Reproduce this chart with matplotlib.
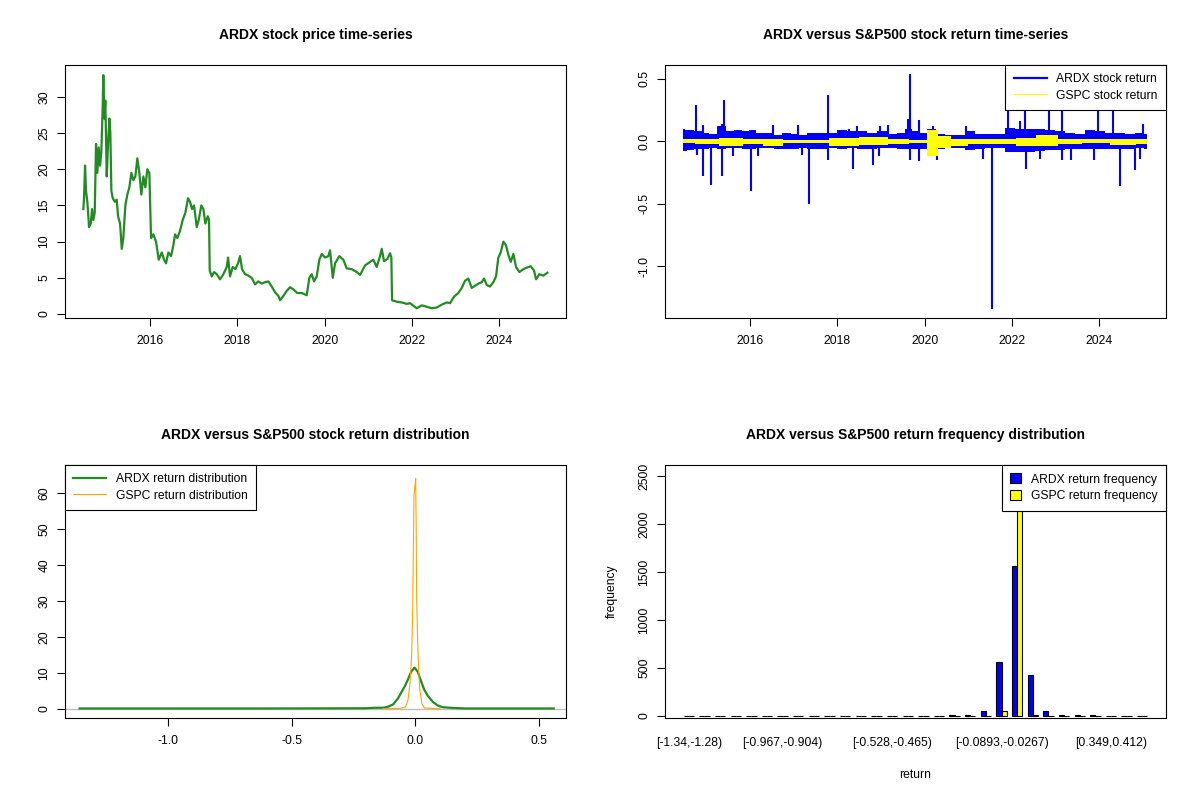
import numpy as np
import matplotlib
matplotlib.use('Agg')
import matplotlib.pyplot as plt
from matplotlib.lines import Line2D
from matplotlib.patches import Patch

plt.rcParams['font.family'] = ['Liberation Sans', 'DejaVu Sans']

# ARDX closing price (decimal year, USD)
price_years = [2014.472, 2014.488, 2014.511, 2014.534, 2014.564, 2014.603, 2014.642, 2014.672,
               2014.701, 2014.733, 2014.763, 2014.793, 2014.825, 2014.855, 2014.885, 2014.917,
               2014.930, 2014.953, 2014.976, 2015.008, 2015.038, 2015.068, 2015.091, 2015.114,
               2015.146, 2015.192, 2015.237, 2015.267, 2015.313, 2015.352, 2015.388, 2015.434,
               2015.480, 2015.526, 2015.572, 2015.618, 2015.663, 2015.709, 2015.755, 2015.801,
               2015.847, 2015.892, 2015.938, 2015.984, 2016.023, 2016.076, 2016.137, 2016.199,
               2016.268, 2016.321, 2016.366, 2016.419, 2016.481, 2016.534, 2016.573, 2016.625,
               2016.687, 2016.749, 2016.809, 2016.870, 2016.916, 2016.962, 2017.008, 2017.070,
               2017.115, 2017.175, 2017.221, 2017.267, 2017.322, 2017.351, 2017.367, 2017.413,
               2017.466, 2017.528, 2017.603, 2017.679, 2017.757, 2017.787, 2017.832, 2017.894,
               2017.954, 2018.016, 2018.061, 2018.107, 2018.176, 2018.251, 2018.329, 2018.405,
               2018.480, 2018.558, 2018.634, 2018.710, 2018.787, 2018.863, 2018.939, 2018.978,
               2019.053, 2019.131, 2019.207, 2019.282, 2019.374, 2019.475, 2019.589, 2019.649,
               2019.704, 2019.756, 2019.818, 2019.878, 2019.933, 2020.008, 2020.084, 2020.123,
               2020.185, 2020.237, 2020.336, 2020.427, 2020.505, 2020.620, 2020.734, 2020.810,
               2020.924, 2021.039, 2021.114, 2021.192, 2021.268, 2021.307, 2021.359, 2021.435,
               2021.497, 2021.527, 2021.543, 2021.650, 2021.765, 2021.879, 2021.955, 2022.108,
               2022.223, 2022.338, 2022.452, 2022.567, 2022.681, 2022.796, 2022.871, 2022.963,
               2023.061, 2023.139, 2023.215, 2023.290, 2023.368, 2023.444, 2023.519, 2023.597,
               2023.650, 2023.712, 2023.787, 2023.863, 2023.925, 2023.977, 2024.032, 2024.092,
               2024.154, 2024.206, 2024.261, 2024.321, 2024.383, 2024.458, 2024.550, 2024.628,
               2024.720, 2024.795, 2024.841, 2024.917, 2025.008, 2025.100]
price_values = [14.5, 16.0, 20.5, 17.0, 15.5, 12.0, 12.5, 14.5,
                13.0, 14.0, 23.5, 19.5, 23.0, 20.5, 22.5, 29.0,
                33.0, 27.0, 29.5, 19.0, 23.5, 27.0, 25.0, 17.0,
                16.0, 15.5, 15.8, 13.5, 12.5, 9.0, 10.5, 15.0,
                16.5, 17.5, 19.5, 18.5, 19.0, 21.5, 19.5, 16.5,
                19.0, 17.5, 20.0, 19.5, 10.5, 11.0, 10.0, 7.5,
                8.5, 7.5, 7.0, 8.5, 8.0, 9.5, 11.0, 10.5,
                11.5, 13.0, 14.0, 16.0, 15.5, 14.5, 15.0, 12.0,
                13.0, 15.0, 14.5, 12.5, 13.5, 13.0, 6.0, 5.2,
                5.8, 5.5, 4.8, 5.5, 6.5, 7.8, 5.2, 6.5,
                6.2, 7.0, 8.0, 6.2, 5.5, 5.3, 5.0, 4.1,
                4.5, 4.2, 4.4, 4.5, 3.8, 3.0, 2.5, 1.9,
                2.5, 3.2, 3.7, 3.4, 2.9, 2.9, 2.6, 5.0,
                5.5, 4.5, 5.2, 7.5, 8.3, 7.8, 8.0, 8.8,
                5.0, 7.0, 8.0, 7.5, 6.3, 6.2, 5.8, 5.4,
                6.7, 7.2, 7.5, 6.5, 8.0, 9.0, 7.3, 7.6,
                8.4, 7.8, 1.9, 1.7, 1.6, 1.4, 1.5, 0.8,
                1.2, 1.0, 0.8, 0.9, 1.3, 1.6, 1.5, 2.4,
                2.9, 3.6, 4.6, 4.9, 3.6, 3.9, 4.2, 4.4,
                4.9, 4.0, 3.8, 4.4, 5.2, 7.8, 8.5, 10.0,
                9.5, 8.2, 7.2, 8.3, 6.5, 5.8, 6.2, 6.4,
                6.6, 6.0, 4.8, 5.5, 5.3, 5.7]

# ARDX daily return: typical daily range (band) plus the isolated large moves
band_years = [2014.465, 2014.626, 2014.809, 2014.969, 2015.130, 2015.359, 2015.542, 2015.725,
              2015.885, 2016.046, 2016.229, 2016.458, 2016.641, 2016.825, 2017.031, 2017.191,
              2017.420, 2017.649, 2017.878, 2018.107, 2018.336, 2018.565, 2018.794, 2019.023,
              2019.252, 2019.481, 2019.619, 2019.779, 2019.939, 2020.169, 2020.352, 2020.581,
              2020.810, 2021.039, 2021.268, 2021.497, 2021.726, 2021.955, 2022.184, 2022.413,
              2022.642, 2022.871, 2023.100, 2023.329, 2023.558, 2023.787, 2024.016, 2024.245,
              2024.474, 2024.704, 2024.933, 2025.100]
band_high = [0.09, 0.09, 0.08, 0.07, 0.06, 0.12, 0.08, 0.09,
             0.08, 0.09, 0.07, 0.07, 0.05, 0.07, 0.06, 0.05,
             0.07, 0.07, 0.07, 0.09, 0.08, 0.08, 0.07, 0.08,
             0.06, 0.07, 0.10, 0.08, 0.07, 0.10, 0.06, 0.05,
             0.05, 0.08, 0.06, 0.06, 0.06, 0.11, 0.10, 0.10,
             0.10, 0.09, 0.08, 0.07, 0.06, 0.09, 0.08, 0.07,
             0.07, 0.06, 0.07, 0.06]
band_low = [-0.08, -0.07, -0.06, -0.06, -0.05, -0.06, -0.05, -0.05,
            -0.06, -0.06, -0.05, -0.05, -0.06, -0.06, -0.06, -0.05,
            -0.06, -0.06, -0.05, -0.06, -0.05, -0.06, -0.06, -0.05,
            -0.05, -0.06, -0.06, -0.06, -0.06, -0.12, -0.06, -0.05,
            -0.05, -0.07, -0.06, -0.05, -0.05, -0.09, -0.09, -0.09,
            -0.08, -0.07, -0.07, -0.06, -0.06, -0.06, -0.06, -0.06,
            -0.06, -0.06, -0.05, -0.06]
spike_years = [2014.488, 2014.752, 2014.930, 2015.359, 2015.411, 2016.534, 2017.106, 2017.780,
               2018.267, 2018.451, 2018.984, 2019.168, 2019.626, 2019.665, 2019.871, 2020.191,
               2020.947, 2021.898, 2022.184, 2022.299, 2022.855, 2023.139, 2023.977, 2024.321,
               2025.008,
               2014.779, 2014.930, 2015.100, 2015.352, 2015.618, 2016.023, 2016.190, 2017.184,
               2017.358, 2017.780, 2018.366, 2018.817, 2018.955, 2019.665, 2019.871, 2020.283,
               2021.343, 2021.550, 2022.321, 2022.642, 2023.139, 2023.352, 2023.886, 2024.474,
               2024.818, 2024.933]
spike_values = [0.10, 0.29, 0.13, 0.14, 0.33, 0.13, 0.13, 0.37,
                0.10, 0.12, 0.12, 0.13, 0.18, 0.54, 0.17, 0.12,
                0.12, 0.28, 0.16, 0.32, 0.30, 0.27, 0.29, 0.26,
                0.14,
                -0.11, -0.28, -0.35, -0.28, -0.12, -0.40, -0.12, -0.11,
                -0.50, -0.15, -0.22, -0.19, -0.12, -0.15, -0.16, -0.15,
                -0.14, -1.346, -0.22, -0.14, -0.15, -0.15, -0.15, -0.36,
                -0.23, -0.14]

# S&P500 daily return range
gspc_years = [2014.465, 2015.0, 2015.6, 2016.1, 2016.5, 2017.0, 2017.5, 2018.1, 2018.9, 2019.4,
              2019.9, 2020.2, 2020.4, 2020.8, 2021.2, 2021.9, 2022.3, 2022.8, 2023.3, 2023.9,
              2024.6, 2025.1]
gspc_high = [0.015, 0.015, 0.025, 0.02, 0.015, 0.01, 0.01, 0.03, 0.035, 0.015,
             0.01, 0.09, 0.04, 0.02, 0.02, 0.02, 0.03, 0.05, 0.02, 0.015,
             0.02, 0.015]
gspc_low = [-0.015, -0.02, -0.035, -0.025, -0.035, -0.01, -0.01, -0.04, -0.03, -0.025,
            -0.015, -0.12, -0.05, -0.035, -0.02, -0.02, -0.04, -0.04, -0.02, -0.015,
            -0.03, -0.02]

# kernel densities of returns
ardx_dens_x = [-1.36, -0.60, -0.20, -0.16, -0.13, -0.11, -0.09, -0.07, -0.058, -0.044,
               -0.031, -0.017, -0.004, 0.009, 0.023, 0.036, 0.050, 0.070, 0.090, 0.110,
               0.150, 0.20, 0.56]
ardx_dens_y = [0.15, 0.15, 0.2, 0.35, 0.35, 0.65, 1.3, 3.0, 4.5, 6.2,
               8.1, 10.4, 11.5, 10.4, 7.7, 5.3, 3.7, 2.0, 1.0, 0.5,
               0.3, 0.15, 0.15]
gspc_dens_x = [-0.13, -0.06, -0.04, -0.03, -0.022, -0.015, -0.011, -0.006, -0.002, 0.001,
               0.003, 0.005, 0.009, 0.013, 0.018, 0.026, 0.036, 0.06, 0.10]
gspc_dens_y = [0.1, 0.2, 0.6, 2.5, 7.2, 15.5, 27.5, 59.0, 62.0, 64.0,
               51.6, 31.0, 19.0, 10.8, 5.3, 1.5, 0.3, 0.2, 0.1]

# return frequency per bin (30 equal bins from -1.34 to 0.54)
ardx_counts = [1, 0, 0, 0, 0, 0, 0, 0, 0, 0, 0, 0, 0, 0, 0,
               0, 0, 9, 8, 55, 560, 1560, 430, 55, 8, 9, 7, 0, 0, 1]
gspc_counts = [0, 0, 0, 0, 0, 0, 0, 0, 0, 0, 0, 0, 0, 0, 0,
               0, 0, 0, 0, 1, 50, 2618, 12, 0, 0, 0, 0, 0, 0, 0]
label_bins = [0, 6, 13, 20, 27]
label_text = ['[-1.34,-1.28)', '[-0.967,-0.904)', '[-0.528,-0.465)',
              '[-0.0893,-0.0267)', '[0.349,0.412)']

FS = 8.7


def r_style(ax):
    for s in ax.spines.values():
        s.set_linewidth(0.8)
    ax.tick_params(direction='out', length=5.5, width=0.8, labelsize=FS)
    ax.tick_params(axis='x', pad=6.5)
    ax.tick_params(axis='y', pad=5, labelrotation=90)
    for lab in ax.get_yticklabels():
        lab.set_va('center')


def r_legend(ax, handles, labels, loc, **kw):
    leg = ax.legend(handles, labels, loc=loc, borderaxespad=0, fancybox=False,
                    edgecolor='black', framealpha=1, fontsize=FS, borderpad=0.7,
                    labelspacing=0.35, **kw)
    leg.get_frame().set_linewidth(0.8)
    leg.set_zorder(10)
    return leg


def stair_edges(x):
    x = np.asarray(x, dtype=float)
    return np.concatenate([[x[0]], (x[:-1] + x[1:]) / 2, [x[-1]]])


fig = plt.figure(figsize=(12, 8), dpi=100)
ax1 = fig.add_axes([0.0542, 0.6025, 0.4175, 0.31625])
ax2 = fig.add_axes([0.5542, 0.6025, 0.4175, 0.31625])
ax3 = fig.add_axes([0.0542, 0.1025, 0.4175, 0.31625])
ax4 = fig.add_axes([0.5542, 0.1025, 0.4175, 0.31625])

year_ticks = [2016, 2018, 2020, 2022, 2024]

# price
ax1.plot(price_years, price_values, color='forestgreen', lw=1.6)
ax1.set_xlim(2014.053, 2025.528)
ax1.set_ylim(-0.55, 34.4)
ax1.set_xticks(year_ticks)
ax1.set_yticks([0, 5, 10, 15, 20, 25, 30])
r_style(ax1)
ax1.set_title('ARDX stock price time-series', fontsize=10, fontweight='bold', pad=18.5)

# returns
ax2.stairs(band_high, stair_edges(band_years), baseline=band_low, fill=True,
           color='blue', lw=0, zorder=2)
ax2.vlines(spike_years, 0, spike_values, color='blue', lw=1.5, zorder=2)
ax2.stairs(gspc_high, stair_edges(gspc_years), baseline=gspc_low, fill=True,
           color='yellow', lw=0, zorder=3)
ax2.set_xlim(2014.053, 2025.528)
ax2.set_ylim(-1.416, 0.611)
ax2.set_xticks(year_ticks)
ax2.set_yticks([-1.0, -0.5, 0.0, 0.5])
ax2.set_yticklabels(['-1.0', '-0.5', '0.0', '0.5'])
r_style(ax2)
ax2.set_title('ARDX versus S&P500 stock return time-series', fontsize=10,
              fontweight='bold', pad=18.5)
r_legend(ax2, [Line2D([], [], color='blue', lw=1.6), Line2D([], [], color='yellow', lw=0.8)],
         ['ARDX stock return', 'GSPC stock return'], 'upper right', handlelength=2.7)

# densities
ax3.axhline(0, color='#BEBEBE', lw=1.0, zorder=1)
ax3.plot(ardx_dens_x, ardx_dens_y, color='forestgreen', lw=1.6, zorder=2)
ax3.plot(gspc_dens_x, gspc_dens_y, color='orange', lw=0.8, zorder=3)
ax3.set_xlim(-1.419, 0.610)
ax3.set_ylim(-2.5, 67.8)
ax3.set_xticks([-1.0, -0.5, 0.0, 0.5])
ax3.set_xticklabels(['-1.0', '-0.5', '0.0', '0.5'])
ax3.set_yticks([0, 10, 20, 30, 40, 50, 60])
r_style(ax3)
ax3.set_title('ARDX versus S&P500 stock return distribution', fontsize=10,
              fontweight='bold', pad=18.5)
r_legend(ax3, [Line2D([], [], color='forestgreen', lw=1.6), Line2D([], [], color='orange', lw=0.8)],
         ['ARDX return distribution', 'GSPC return distribution'], 'upper left',
         handlelength=2.7)

# frequency bars
grp = np.arange(len(ardx_counts))
ax4.bar(3 * grp + 1.5, ardx_counts, width=1, color='blue', edgecolor='black', lw=0.8)
ax4.bar(3 * grp + 2.5, gspc_counts, width=1, color='yellow', edgecolor='black', lw=0.8)
ax4.set_xlim(-2.56, 93.56)
ax4.set_ylim(-21, 2615)
ax4.set_xticks([3 * b + 2 for b in label_bins])
ax4.set_xticklabels(label_text)
ax4.set_yticks([0, 500, 1000, 1500, 2000, 2500])
r_style(ax4)
ax4.tick_params(axis='x', length=0, pad=13.5)
ax4.set_title('ARDX versus S&P500 return frequency distribution', fontsize=10,
              fontweight='bold', pad=18.5)
ax4.set_xlabel('return', fontsize=FS)
ax4.set_ylabel('frequency', fontsize=FS)
ax4.xaxis.set_label_coords(0.5, -0.225)
ax4.xaxis.label.set_va('center')
ax4.yaxis.set_label_coords(-0.106, 0.5)
ax4.yaxis.label.set_va('center')
r_legend(ax4, [Patch(facecolor='blue', edgecolor='black', lw=0.8),
               Patch(facecolor='yellow', edgecolor='black', lw=0.8)],
         ['ARDX return frequency', 'GSPC return frequency'], 'upper right',
         handlelength=0.9, handleheight=0.9)

fig.savefig('out.png', dpi=100)
